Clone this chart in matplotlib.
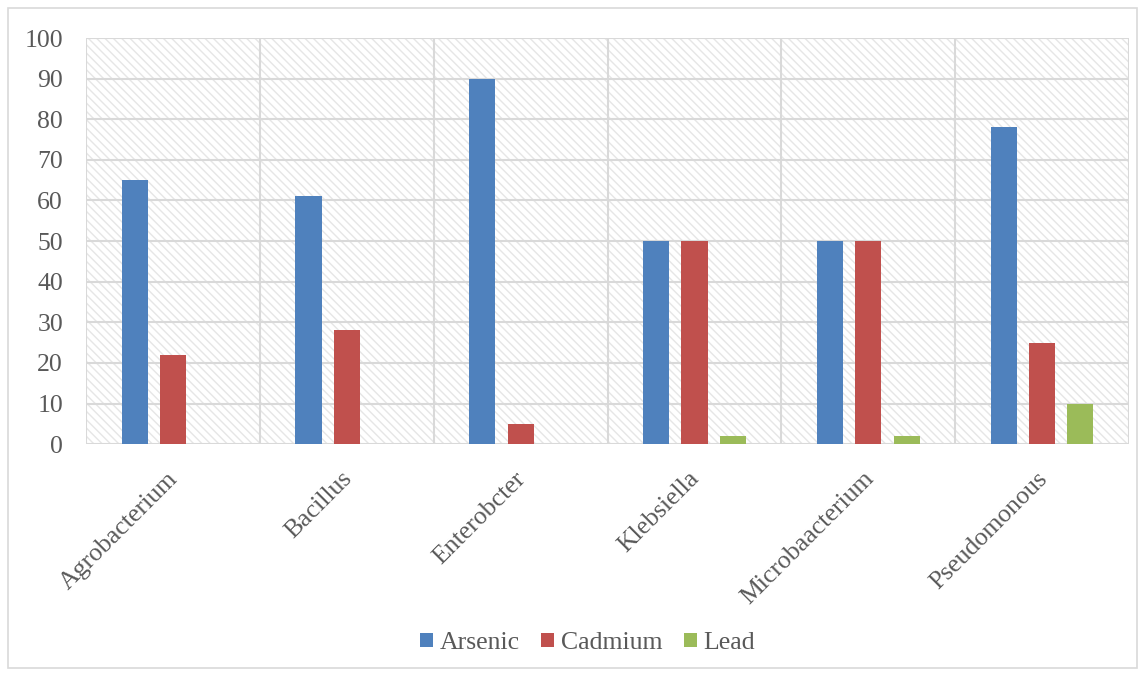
import numpy as np
import matplotlib.pyplot as plt
import matplotlib.transforms as mtransforms
from matplotlib.patches import Rectangle, Patch

bacteria = ['Agrobacterium', 'Bacillus', 'Enterobcter', 'Klebsiella',
            'Microbaacterium', 'Pseudomonous']
arsenic = [65, 61, 90, 50, 50, 78]
cadmium = [22, 28, 5, 50, 50, 25]
lead = [0, 0, 0, 2, 2, 10]

series = [('Arsenic', arsenic, '#4F81BD'),
          ('Cadmium', cadmium, '#C0504D'),
          ('Lead', lead, '#9BBB59')]

plt.rcParams['font.family'] = ['Liberation Serif', 'DejaVu Serif']
plt.rcParams['hatch.linewidth'] = 1.0
text_color = '#595959'
grid_color = '#d9d9d9'
fs = 18.5

fig = plt.figure(figsize=(11.45, 6.75), dpi=100)
fig.patch.set_facecolor('white')
ax = fig.add_axes([0.0751, 0.342, 0.911, 0.6017])

# hatched plot area like the spreadsheet default
ax.patch.set_facecolor('white')
ax.add_patch(Rectangle((0, 0), 1, 1, transform=ax.transAxes, facecolor='white',
                       edgecolor='#e6e6e6', hatch='\\\\\\\\', linewidth=0, zorder=0))

x = np.arange(len(bacteria))
width = 0.15
step = 0.22
for i, (name, vals, color) in enumerate(series):
    ax.bar(x + (i - 1) * step, vals, width, color=color, label=name, zorder=3)

ax.set_xlim(-0.5, len(bacteria) - 0.5)
ax.set_ylim(0, 100)
ax.set_yticks(range(0, 101, 10))

# vertical grid lines between categories, horizontal at each tick
for b in np.arange(-0.5, len(bacteria)):
    ax.axvline(b, color=grid_color, linewidth=1.5, zorder=1)
for y in range(0, 101, 10):
    ax.axhline(y, color=grid_color, linewidth=1.5, zorder=1)

for s in ax.spines.values():
    s.set_visible(False)

ax.set_xticks(x)
ax.set_xticklabels(bacteria, rotation=45, ha='right', rotation_mode='anchor')
ax.tick_params(axis='x', length=0, pad=17, labelsize=fs, labelcolor=text_color)
ax.tick_params(axis='y', length=0, pad=16.5, labelsize=fs, labelcolor=text_color)

# nudge rotated category labels a little to the left
shift = mtransforms.ScaledTranslation(-6 / 100, 0, fig.dpi_scale_trans)
for lbl in ax.get_xticklabels():
    lbl.set_transform(lbl.get_transform() + shift)

handles = [Patch(facecolor=c, label=n) for n, _, c in series]
fig.legend(handles=handles, loc='center', bbox_to_anchor=(0.513, 0.047), ncol=3,
           frameon=False, fontsize=fs, labelcolor=text_color,
           handlelength=0.5, handleheight=0.5, handletextpad=0.25, columnspacing=0.85)

# outer chart border
fig.add_artist(Rectangle((0.007, 0.01), 0.986, 0.978, transform=fig.transFigure,
                         fill=False, edgecolor='#d9d9d9', linewidth=1.2))

fig.savefig('out.png', dpi=100)
